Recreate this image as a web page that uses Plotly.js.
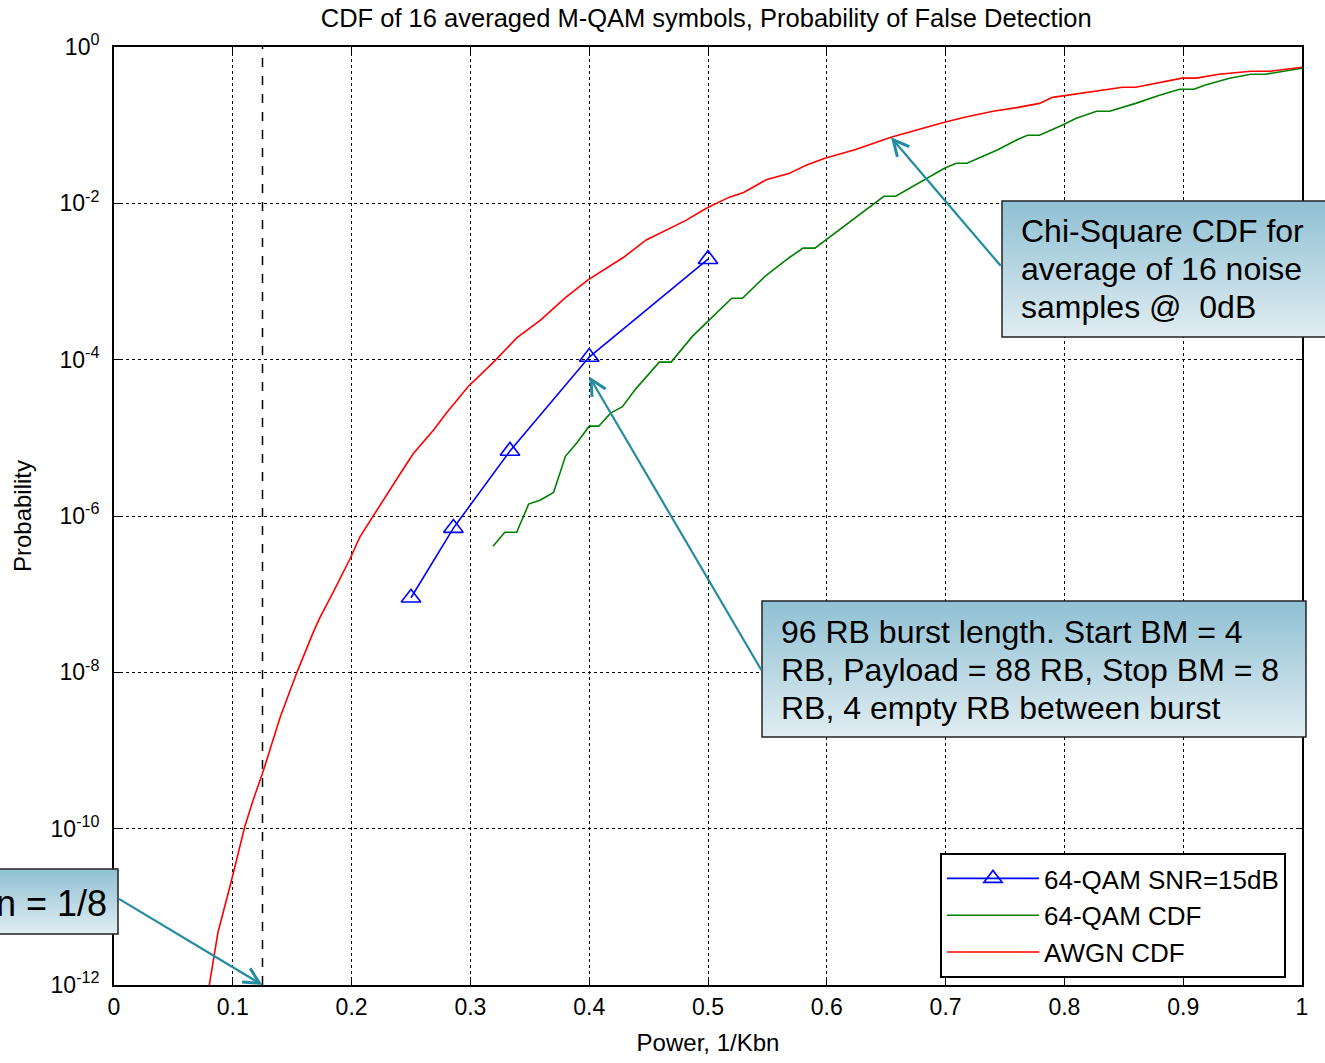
<!DOCTYPE html>
<html>
<head>
<meta charset="utf-8">
<script src="https://cdn.plot.ly/plotly-3.0.1.min.js"></script>
<style>
html,body{margin:0;padding:0;background:#fff;}
#chart{width:1325px;height:1063px;}
</style>
</head>
<body>
<div id="chart"></div>
<script>
// ---- data ----
const snrX = [0.25, 0.2857, 0.3333, 0.4, 0.5];
const snrP = [9e-8, 7e-7, 6.8e-6, 1.08e-4, 1.93e-3];

const qamX = [0.319,0.329,0.339,0.349,0.359,0.370,0.380,0.390,0.400,0.408,0.418,0.428,0.439,0.459,0.469,0.487,0.499,0.520,0.529,0.549,0.568,0.580,0.590,0.619,0.648,0.658,0.681,0.699,0.709,0.718,0.743,0.761,0.769,0.779,0.798,0.810,0.827,0.838,0.860,0.880,0.897,0.909,0.918,0.939,0.957,0.969,1.0];
const qamP = [4.1e-7,6.2e-7,6.2e-7,1.42e-6,1.6e-6,2.0e-6,5.8e-6,8.8e-6,1.41e-5,1.41e-5,2.07e-5,2.5e-5,4.2e-5,9.3e-5,9.3e-5,2.0e-4,3.0e-4,6.1e-4,6.1e-4,1.2e-3,2.0e-3,2.67e-3,2.67e-3,5.7e-3,0.0123,0.0123,0.0197,0.0281,0.0326,0.0326,0.0478,0.066,0.0743,0.0743,0.0997,0.1226,0.151,0.151,0.19,0.241,0.288,0.288,0.324,0.398,0.448,0.448,0.534];

const awgnX = [0.080,0.0875,0.099,0.110,0.117,0.125,0.140,0.154,0.1675,0.173,0.184,0.199,0.207,0.218,0.230,0.241,0.252,0.269,0.280,0.298,0.321,0.339,0.359,0.380,0.399,0.409,0.429,0.448,0.467,0.481,0.499,0.518,0.530,0.549,0.568,0.583,0.599,0.623,0.654,0.669,0.681,0.699,0.716,0.740,0.761,0.779,0.790,0.822,0.849,0.860,0.899,0.911,0.930,0.957,0.973,1.0];
const awgnP = [9.5e-13,4.7e-12,2.2e-11,1.05e-10,2.3e-10,5.1e-10,2.7e-9,1.0e-8,3.2e-8,4.9e-8,1.02e-7,2.9e-7,5.4e-7,1.0e-6,1.95e-6,3.5e-6,6.3e-6,1.26e-5,2.1e-5,4.5e-5,9.8e-5,1.9e-4,3.2e-4,6.2e-4,1.05e-3,1.32e-3,2.04e-3,3.4e-3,4.7e-3,6.0e-3,8.7e-3,0.012,0.0138,0.020,0.024,0.031,0.038,0.048,0.070,0.081,0.093,0.109,0.126,0.151,0.169,0.19,0.227,0.264,0.305,0.305,0.40,0.40,0.448,0.489,0.489,0.55];

const seriesNames = ['64-QAM SNR=15dB', '64-QAM CDF', 'AWGN CDF'];
const yTickExp = [0, -2, -4, -6, -8, -10, -12];
const markerLineX = 0.125;   // dashed vertical reference line (1/8)

const chiLines = ['Chi-Square CDF for', 'average of 16 noise', 'samples @  0dB'];
const rbLines = ['96 RB burst length. Start BM = 4', 'RB, Payload = 88 RB, Stop BM = 8', 'RB, 4 empty RB between burst'];
const nText = 'n = 1/8';

// annotation anchor points (data values)
const chiArrowPt = {x: 0.654, p: 0.070};
const rbArrowPt  = {x: 0.4,   p: 6.1e-5};
const nArrowPt   = {x: 0.125, p: 1e-12};

// ---- figure ----
const FONT = 'Liberation Sans, Arial, Helvetica, sans-serif';
const teal = '#248ca0';

const traces = [
  {x: snrX, y: snrP, name: seriesNames[0], type: 'scatter', mode: 'lines+markers',
   line: {color: '#0000ff', width: 1.6},
   marker: {symbol: 'triangle-up-open', size: 17, color: '#0000ff', line: {width: 1.6, color: '#0000ff'}}},
  {x: qamX, y: qamP, name: seriesNames[1], type: 'scatter', mode: 'lines',
   line: {color: '#008000', width: 1.6}},
  {x: awgnX, y: awgnP, name: seriesNames[2], type: 'scatter', mode: 'lines',
   line: {color: '#ff0000', width: 1.6}}
];

const gradSvg = "<svg xmlns='http://www.w3.org/2000/svg' width='10' height='10' viewBox='0 0 10 10' preserveAspectRatio='none'>" +
  "<defs><linearGradient id='g' x1='0' y1='0' x2='0' y2='1'>" +
  "<stop offset='0' stop-color='#8fc0d3'/><stop offset='1' stop-color='#e1edf2'/></linearGradient></defs>" +
  "<rect x='0' y='0' width='10' height='10' fill='url(#g)'/></svg>";
const gradUrl = 'data:image/svg+xml;charset=utf-8,' + encodeURIComponent(gradSvg);

// plot area in pixels: left 114, right 1302, top 47, bottom 985
const L = 114, R = 1302, T = 47, B = 985;
const px = v => (v - L) / (R - L);
const py = v => (B - v) / (B - T);

const boxes = [
  {x0: 1002, x1: 1335, y0: 201, y1: 337},
  {x0: 762,  x1: 1306, y0: 601, y1: 737},
  {x0: -20,  x1: 118,  y0: 869, y1: 934}
];

const images = boxes.map(b => ({
  source: gradUrl, xref: 'paper', yref: 'paper',
  x: px(b.x0), y: py(b.y0), sizex: px(b.x1) - px(b.x0), sizey: py(b.y0) - py(b.y1),
  xanchor: 'left', yanchor: 'top', sizing: 'stretch', layer: 'above'
}));

const shapes = [
  {type: 'line', xref: 'x', yref: 'paper', x0: markerLineX, x1: markerLineX, y0: 0, y1: 1,
   line: {color: '#000', width: 1.5, dash: 'dash'}, layer: 'below'}
].concat(boxes.map(b => ({
  type: 'rect', xref: 'paper', yref: 'paper',
  x0: px(b.x0), x1: px(b.x1), y0: py(b.y1), y1: py(b.y0),
  line: {color: '#222', width: 1.5}, fillcolor: 'rgba(0,0,0,0)', layer: 'above'
})));

const textFont = {family: FONT, size: 32, color: '#000'};
const lineAnn = (txt, xPix, yPix) => ({xref: 'paper', yref: 'paper', x: px(xPix), y: py(yPix),
  xanchor: 'left', yanchor: 'middle', align: 'left', showarrow: false, text: txt, font: textFont});

const annotations = [
  {x: chiArrowPt.x, y: Math.log10(chiArrowPt.p), xref: 'x', yref: 'y', text: '', showarrow: true,
   ax: 111, ay: 130, arrowhead: 5, arrowsize: 1.4, arrowwidth: 2.2, arrowcolor: teal},
  {x: rbArrowPt.x, y: Math.log10(rbArrowPt.p), xref: 'x', yref: 'y', text: '', showarrow: true,
   ax: 173, ay: 295, arrowhead: 5, arrowsize: 1.4, arrowwidth: 2.2, arrowcolor: teal},
  {x: nArrowPt.x, y: Math.log10(nArrowPt.p), xref: 'x', yref: 'y', text: '', showarrow: true,
   ax: -145, ay: -87, arrowhead: 5, arrowsize: 1.4, arrowwidth: 2.2, arrowcolor: teal}
]
.concat(chiLines.map((t, i) => lineAnn(t, 1019, 231 + 38 * i)))
.concat(rbLines.map((t, i) => lineAnn(t, 779, 632 + 38 * i)))
.concat([{xref: 'paper', yref: 'paper', x: px(109), y: py(903), xanchor: 'right', yanchor: 'middle', align: 'right',
   showarrow: false, text: nText, font: {family: FONT, size: 36, color: '#000'}}]);

const layout = {
  width: 1325, height: 1063,
  margin: {l: L, r: 1325 - R, t: T, b: 1063 - B, pad: 0},
  paper_bgcolor: '#fff', plot_bgcolor: '#fff',
  font: {family: FONT, size: 23, color: '#000'},
  title: {text: 'CDF of 16 averaged M-QAM symbols, Probability of False Detection',
          font: {family: FONT, size: 25.5, color: '#000'}, x: 0.533, xanchor: 'center', y: 0.983, yanchor: 'middle'},
  xaxis: {
    range: [0, 1], dtick: 0.1, tick0: 0,
    showgrid: true, gridcolor: '#000', gridwidth: 1, griddash: 'dot',
    showline: true, linecolor: '#000', linewidth: 2, mirror: 'ticks',
    ticks: 'inside', ticklen: 6, tickcolor: '#000', zeroline: false,
    tickfont: {family: FONT, size: 23},
    title: {text: 'Power, 1/Kbn', font: {family: FONT, size: 24}, standoff: 16}
  },
  yaxis: {
    type: 'log', range: [-12, 0],
    tickvals: yTickExp.map(e => Math.pow(10, e)),
    ticktext: yTickExp.map(e => '10<sup>' + e + '</sup>'),
    showgrid: true, gridcolor: '#000', gridwidth: 1, griddash: 'dot',
    showline: true, linecolor: '#000', linewidth: 2, mirror: 'ticks',
    ticks: 'inside', ticklen: 6, tickcolor: '#000', zeroline: false,
    tickfont: {family: FONT, size: 23}, ticklabelstandoff: 8,
    title: {text: 'Probability', font: {family: FONT, size: 24}, standoff: 12}
  },
  legend: {
    x: px(940), y: py(853), xanchor: 'left', yanchor: 'top',
    bgcolor: '#fff', bordercolor: '#000', borderwidth: 2,
    font: {family: FONT, size: 26, color: '#000'},
    itemwidth: 92, tracegroupgap: 0
  },
  showlegend: true,
  shapes: shapes,
  images: images,
  annotations: annotations
};

Plotly.newPlot('chart', traces, layout, {staticPlot: true, displayModeBar: false});
</script>
</body>
</html>
